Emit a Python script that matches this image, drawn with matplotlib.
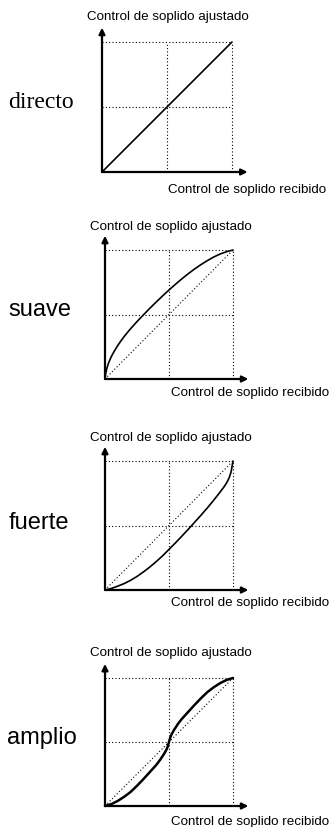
import matplotlib
matplotlib.use("Agg")
import matplotlib.pyplot as plt

# panel names and the curves (x = recibido, y = ajustado)
names = ["directo", "suave", "fuerte", "amplio"]

directo_x = [0.0, 1.0]
directo_y = [0.0, 1.0]

suave_x = [0.0, 0.005, 0.015, 0.03, 0.05, 0.075, 0.1, 0.125, 0.15, 0.2, 0.25, 0.3, 0.35, 0.4, 0.45,
           0.5, 0.55, 0.6, 0.65, 0.7, 0.75, 0.8, 0.85, 0.9, 0.95, 1.0]
suave_y = [0.0, 0.04, 0.085, 0.13, 0.175, 0.22, 0.26, 0.296, 0.33, 0.39, 0.445, 0.497, 0.548, 0.597, 0.644,
           0.69, 0.734, 0.776, 0.816, 0.853, 0.887, 0.918, 0.946, 0.969, 0.987, 1.0]

fuerte_x = [0.0, 0.05, 0.1, 0.15, 0.2, 0.25, 0.3, 0.35, 0.4, 0.45, 0.5, 0.55, 0.6, 0.65, 0.7,
            0.75, 0.8, 0.85, 0.9, 0.93, 0.95, 0.97, 0.985, 1.0]
fuerte_y = [0.0, 0.012, 0.03, 0.05, 0.075, 0.105, 0.14, 0.178, 0.22, 0.265, 0.315, 0.365, 0.417, 0.47, 0.525,
            0.58, 0.637, 0.697, 0.76, 0.8, 0.83, 0.87, 0.915, 1.0]

amplio_x = [0.0, 0.05, 0.1, 0.15, 0.2, 0.25, 0.3, 0.35, 0.4, 0.43, 0.46, 0.48, 0.49, 0.5,
            0.51, 0.52, 0.54, 0.57, 0.6, 0.65, 0.7, 0.75, 0.8, 0.85, 0.9, 0.95, 1.0]
amplio_y = [0.0, 0.015, 0.04, 0.072, 0.11, 0.158, 0.21, 0.265, 0.32, 0.36, 0.405, 0.44, 0.465, 0.5,
            0.535, 0.56, 0.595, 0.642, 0.68, 0.735, 0.79, 0.842, 0.89, 0.928, 0.96, 0.985, 1.0]

curves = [(directo_x, directo_y), (suave_x, suave_y), (fuerte_x, fuerte_y), (amplio_x, amplio_y)]
ylabel = "Control de soplido ajustado"
xlabel = "Control de soplido recibido"

W, H = 332, 827
fig = plt.figure(figsize=(W / 100, H / 100), dpi=100)

# box of each panel in pixels: left, top, right, bottom (origin = left, bottom)
boxes = [(102, 42, 232, 172), (105, 250, 233, 379), (105, 461, 233, 590), (105, 678, 233, 806)]
title_y = [17, 227, 438, 653]
xlab_y = [190, 393, 603, 822]
name_xy = [(41, 103), (40, 310), (39, 523), (42, 738)]

dot = (0, (1, 2))
for i, (l, t, r, b) in enumerate(boxes):
    ax = fig.add_axes([l / W, 1 - b / H, (r - l) / W, (b - t) / H])
    ax.set_xlim(0, 1)
    ax.set_ylim(0, 1)
    ax.axis("off")

    # dotted guides
    for v in (0.5, 1.0):
        ax.plot([v, v], [0, 1], color="black", lw=0.8, ls=dot, clip_on=False)
        ax.plot([0, 1], [v, v], color="black", lw=0.8, ls=dot, clip_on=False)
    if i > 0:
        ax.plot([0, 1], [0, 1], color="black", lw=0.8, ls=dot, clip_on=False)

    # axes arrows
    ax.annotate("", xy=(0, 1.11), xytext=(0, 0), xycoords="data",
                arrowprops=dict(arrowstyle="-|>", color="black", lw=1.6,
                                mutation_scale=9, shrinkA=0, shrinkB=0),
                annotation_clip=False)
    ax.annotate("", xy=(1.12, 0), xytext=(0, 0), xycoords="data",
                arrowprops=dict(arrowstyle="-|>", color="black", lw=1.6,
                                mutation_scale=9, shrinkA=0, shrinkB=0),
                annotation_clip=False)

    cx, cy = curves[i]
    ax.plot(cx, cy, color="black", lw=1.8 if i == 3 else 1.2,
            solid_capstyle="round", solid_joinstyle="round", clip_on=False)

    fig.text((l + 66) / W, 1 - title_y[i] / H, ylabel, ha="center", va="center",
             fontsize=9.6, family="Liberation Sans")
    fig.text((l + 145) / W, 1 - xlab_y[i] / H, xlabel, ha="center", va="center",
             fontsize=9.6, family="Liberation Sans")
    fam = "Liberation Serif" if i == 0 else "Liberation Sans"
    nx, ny = name_xy[i]
    fig.text(nx / W, 1 - ny / H, names[i], ha="center", va="center",
             fontsize=17, family=fam)

fig.savefig("out.png", dpi=100)
